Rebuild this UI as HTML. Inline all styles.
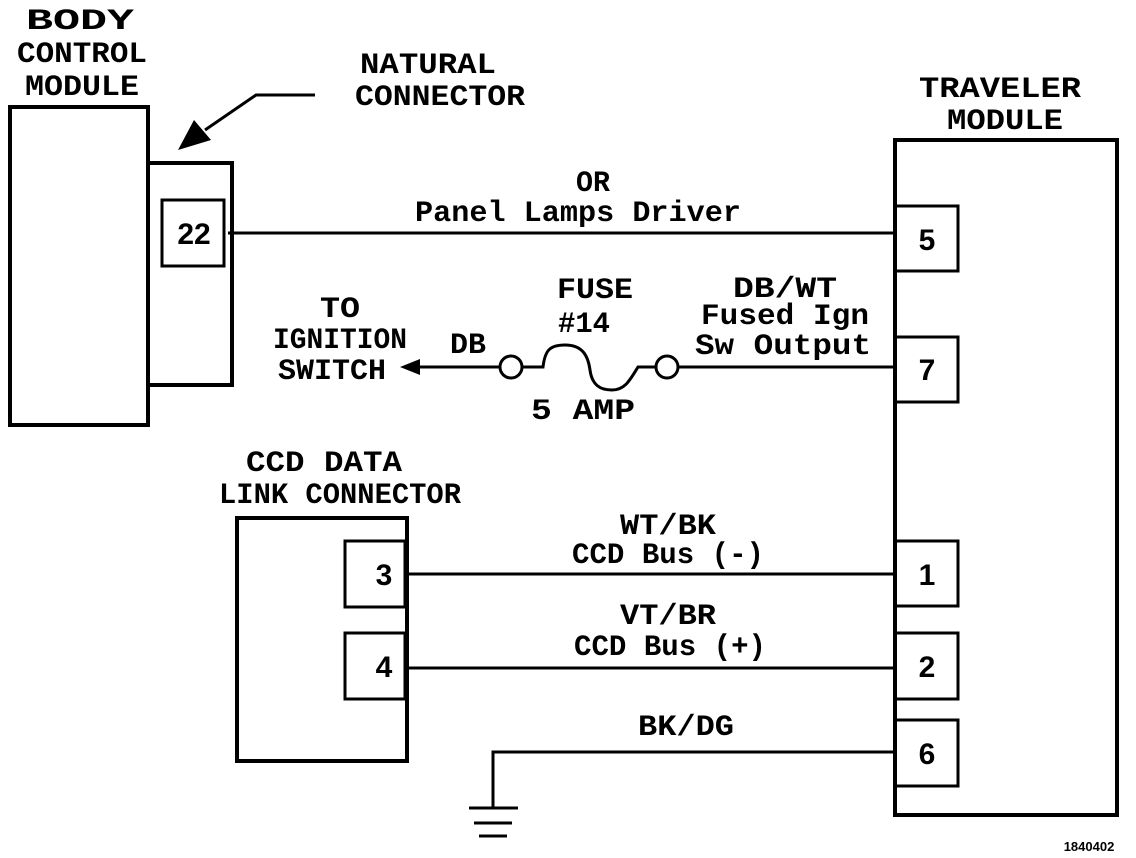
<!DOCTYPE html>
<html><head><meta charset="utf-8"><style>
html,body{margin:0;padding:0;background:#fff;}
svg{display:block}
text{font-family:"Liberation Mono","DejaVu Sans Mono",monospace;font-weight:bold;fill:#000;}
</style></head><body>
<svg width="1136" height="858" viewBox="0 0 1136 858" xmlns="http://www.w3.org/2000/svg">
<g fill="none" stroke="#000" stroke-width="4">
<rect x="10" y="107" width="138" height="318"/>
<rect x="148" y="163" width="84" height="222"/>
<rect x="162" y="200" width="62" height="66" stroke-width="3"/>
<rect x="895" y="140" width="222" height="675"/>
<g stroke-width="3">
<rect x="895" y="206" width="63" height="65"/>
<rect x="895" y="337" width="63" height="65"/>
<rect x="895" y="541" width="63" height="65"/>
<rect x="895" y="633" width="63" height="66"/>
<rect x="895" y="720" width="63" height="66"/>
</g>
<rect x="237" y="518" width="170" height="243"/>
<rect x="345" y="541" width="60" height="66" stroke-width="3"/>
<rect x="345" y="633" width="60" height="66" stroke-width="3"/>
</g>
<g fill="none" stroke="#000" stroke-width="3">
<line x1="228" y1="233" x2="895" y2="233"/>
<line x1="678" y1="367" x2="895" y2="367"/>
<line x1="418" y1="367" x2="500" y2="367"/>
<circle cx="511" cy="367" r="11"/>
<circle cx="667" cy="367" r="11"/>
<path d="M522 367 H543 C545 350 550 345 565 345 C582 345 588 355 590 370 C592 385 600 390 612 390 C625 390 630 380 638 367 H656"/>
<line x1="407" y1="574" x2="895" y2="574"/>
<line x1="407" y1="668" x2="895" y2="668"/>
<polyline points="895,752 493,752 493,808"/>
<line x1="469" y1="808" x2="518" y2="808"/>
<line x1="474" y1="823" x2="512" y2="823"/>
<line x1="479" y1="836" x2="507" y2="836"/>
<polyline points="315,95 256,95 205,130"/>
</g>
<polygon points="400,367 420,359 420,375" fill="#000"/>
<polygon points="178,150 194,120 211,140" fill="#000"/>
<g text-anchor="middle" font-size="30">
<text x="80" y="29" textLength="108" lengthAdjust="spacingAndGlyphs">BODY</text>
<text x="82" y="62" textLength="130" lengthAdjust="spacingAndGlyphs">CONTROL</text>
<text x="82" y="95" textLength="114" lengthAdjust="spacingAndGlyphs">MODULE</text>
<text x="428" y="73" textLength="136" lengthAdjust="spacingAndGlyphs">NATURAL</text>
<text x="440" y="105" textLength="170" lengthAdjust="spacingAndGlyphs">CONNECTOR</text>
<text x="1000" y="97" textLength="162" lengthAdjust="spacingAndGlyphs">TRAVELER</text>
<text x="1005" y="129" textLength="116" lengthAdjust="spacingAndGlyphs">MODULE</text>
<text x="593" y="191" textLength="34" lengthAdjust="spacingAndGlyphs">OR</text>
<text x="578" y="221" textLength="326" lengthAdjust="spacingAndGlyphs">Panel Lamps Driver</text>
<text x="785" y="297" textLength="104" lengthAdjust="spacingAndGlyphs">DB/WT</text>
<text x="785" y="324" textLength="168" lengthAdjust="spacingAndGlyphs">Fused Ign</text>
<text x="783" y="354" textLength="176" lengthAdjust="spacingAndGlyphs">Sw Output</text>
<text x="595" y="298" textLength="76" lengthAdjust="spacingAndGlyphs">FUSE</text>
<text x="584" y="332" textLength="52" lengthAdjust="spacingAndGlyphs">#14</text>
<text x="583" y="419" textLength="104" lengthAdjust="spacingAndGlyphs">5 AMP</text>
<text x="340" y="317" textLength="40" lengthAdjust="spacingAndGlyphs">TO</text>
<text x="340" y="348" textLength="134" lengthAdjust="spacingAndGlyphs">IGNITION</text>
<text x="332" y="379" textLength="108" lengthAdjust="spacingAndGlyphs">SWITCH</text>
<text x="468" y="353" textLength="36" lengthAdjust="spacingAndGlyphs">DB</text>
<text x="324" y="471" textLength="156" lengthAdjust="spacingAndGlyphs">CCD DATA</text>
<text x="340" y="503" textLength="242" lengthAdjust="spacingAndGlyphs">LINK CONNECTOR</text>
<text x="668" y="534" textLength="96" lengthAdjust="spacingAndGlyphs">WT/BK</text>
<text x="668" y="563" textLength="192" lengthAdjust="spacingAndGlyphs">CCD Bus (-)</text>
<text x="668" y="624" textLength="96" lengthAdjust="spacingAndGlyphs">VT/BR</text>
<text x="670" y="655" textLength="192" lengthAdjust="spacingAndGlyphs">CCD Bus (+)</text>
<text x="686" y="735" textLength="96" lengthAdjust="spacingAndGlyphs">BK/DG</text>
</g>
<g text-anchor="middle" font-size="30">
<text x="194" y="244" style="font-family:'Liberation Sans',sans-serif">22</text>
<text x="927" y="250" style="font-family:'Liberation Sans',sans-serif">5</text>
<text x="927" y="380" style="font-family:'Liberation Sans',sans-serif">7</text>
<text x="927" y="585" style="font-family:'Liberation Sans',sans-serif">1</text>
<text x="927" y="677" style="font-family:'Liberation Sans',sans-serif">2</text>
<text x="927" y="764" style="font-family:'Liberation Sans',sans-serif">6</text>
<text x="384" y="585" style="font-family:'Liberation Sans',sans-serif">3</text>
<text x="384" y="677" style="font-family:'Liberation Sans',sans-serif">4</text>
</g>
<text x="1089" y="851" text-anchor="middle" font-size="13" style="font-family:'Liberation Sans',sans-serif">1840402</text>
</svg>
</body></html>
